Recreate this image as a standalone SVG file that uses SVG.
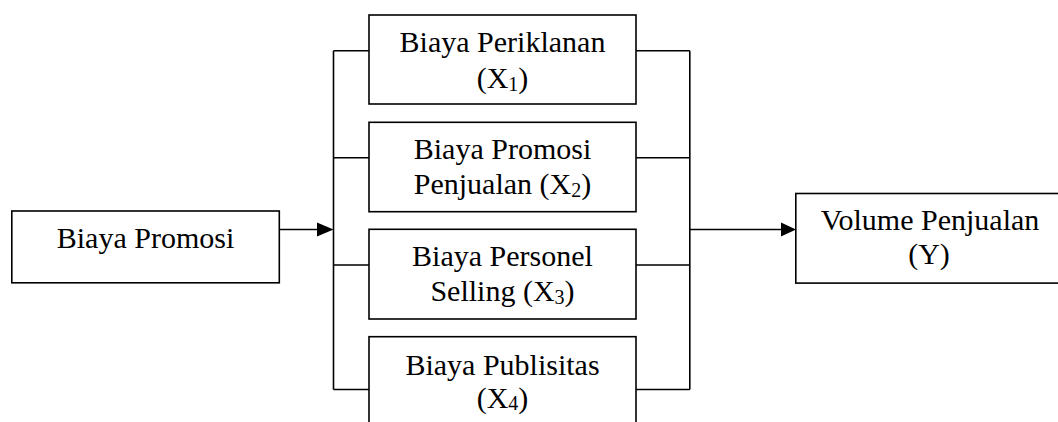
<svg xmlns="http://www.w3.org/2000/svg" width="1058" height="422" viewBox="0 0 1058 422">
<style>
.box{fill:#fff;stroke:#000;stroke-width:1.6}
.ln{fill:none;stroke:#000;stroke-width:1.6}
.ah{fill:#000;stroke:none}
text{font-family:"Liberation Serif","Times New Roman",serif;font-size:30px;fill:#000;text-anchor:middle}
.sub{font-size:20px}
</style>
<rect width="1058" height="422" fill="#fff"/>
<g id="connectors">
<path class="ln" d="M279.5 229.5H318"/>
<polygon class="ah" points="317,222.5 333.5,229.5 317,236.5"/>
<path class="ln" d="M333.5 50.8V389.5M333.5 50.8H369M333.5 157.8H369M333.5 265H369M333.5 389.5H369"/>
<path class="ln" d="M689.8 50.8V389.5M636 50.8H689.8M636 157.8H689.8M636 265H689.8M636 389.5H689.8"/>
<path class="ln" d="M689.8 229.5H782"/>
<polygon class="ah" points="781,222.5 796,229.5 781,236.5"/>
</g>
<g id="node-promosi">
<rect class="box" x="11.8" y="211" width="267.5" height="71.8"/>
<text x="145.5" y="248">Biaya Promosi</text>
</g>
<g id="node-x1">
<rect class="box" x="369" y="15" width="267" height="89"/>
<text x="502.5" y="51.5">Biaya Periklanan</text>
<text x="502.5" y="88">(X<tspan class="sub" dy="2.5">1</tspan><tspan dy="-2.5">)</tspan></text>
</g>
<g id="node-x2">
<rect class="box" x="369" y="122.3" width="267" height="89.4"/>
<text x="502.5" y="159.3">Biaya Promosi</text>
<text x="502.5" y="194.3">Penjualan (X<tspan class="sub" dy="2.5">2</tspan><tspan dy="-2.5">)</tspan></text>
</g>
<g id="node-x3">
<rect class="box" x="369" y="229.3" width="267" height="89.7"/>
<text x="502.5" y="265.5">Biaya Personel</text>
<text x="502.5" y="301">Selling (X<tspan class="sub" dy="2.5">3</tspan><tspan dy="-2.5">)</tspan></text>
</g>
<g id="node-x4">
<rect class="box" x="369" y="336.7" width="267" height="100"/>
<text x="502.5" y="375">Biaya Publisitas</text>
<text x="502.5" y="407.5">(X<tspan class="sub" dy="2.5">4</tspan><tspan dy="-2.5">)</tspan></text>
</g>
<g id="node-y">
<rect class="box" x="795.8" y="193.5" width="280" height="89.6"/>
<text x="930" y="230">Volume Penjualan</text>
<text x="929" y="263.5">(Y)</text>
</g>
</svg>
